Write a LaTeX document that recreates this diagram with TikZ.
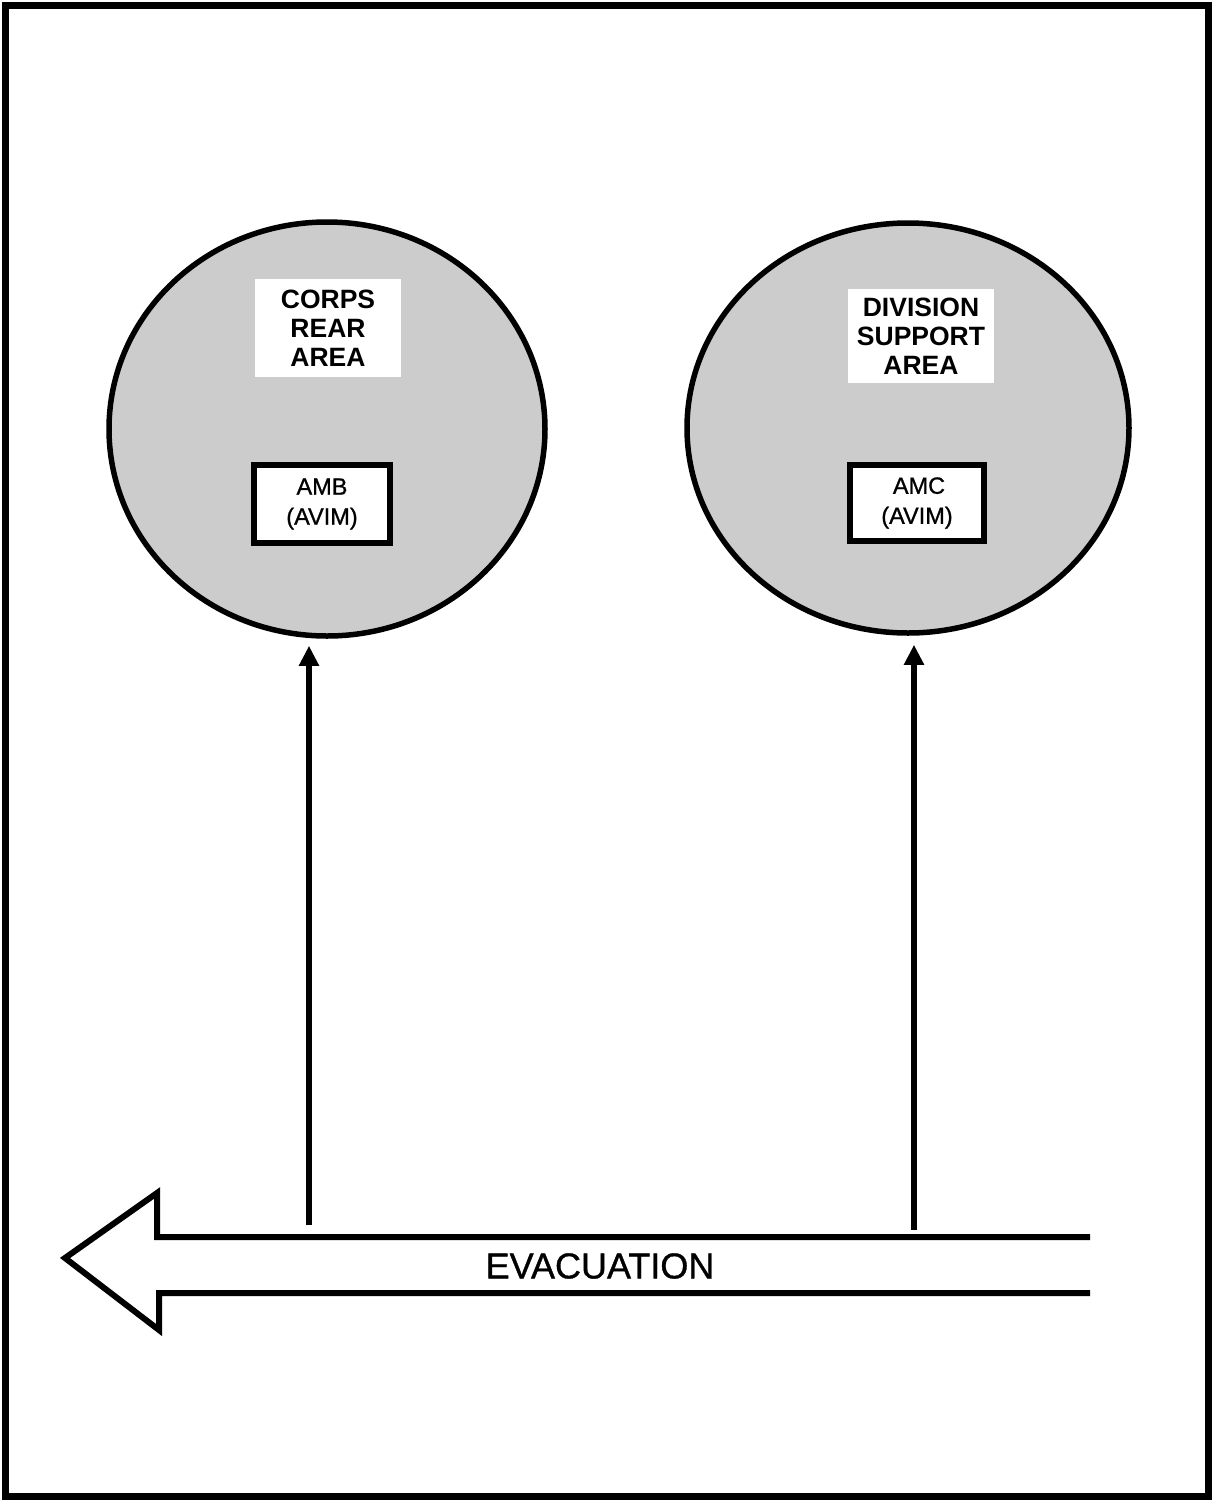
\documentclass[tikz,border=0pt]{standalone}
\usepackage{fontspec}
\setmainfont{Liberation Sans}
\newfontfamily\heavyreg[FakeBold=0.9]{Liberation Sans}
\usetikzlibrary{shapes.geometric,arrows.meta}
\definecolor{areagray}{gray}{0.80}
\begin{document}
\begin{tikzpicture}[x=1pt,y=-1pt,
  area/.style={ellipse,draw,line width=5.5pt,fill=areagray,inner sep=0pt},
  arealabel/.style={fill=white,font=\fontsize{26.5}{29}\selectfont\bfseries,align=center,inner xsep=6pt,inner ysep=5pt},
  unitbox/.style={draw,line width=5.5pt,fill=white,font=\heavyreg\fontsize{23.5}{30}\selectfont,align=center,inner sep=0pt},
  uparrow/.style={line width=6pt,-{Triangle[length=20pt,width=19pt]}},
  bigarrow/.style={line width=6pt,line join=miter}
]
\useasboundingbox (0,0) rectangle (1213,1500);
% outer frame
\draw[line width=7pt] (5.5,5.5) rectangle (1208,1496);

% the two areas
\node[area,minimum width=436pt,minimum height=414pt] (corps) at (327,429) {};
\node[area,minimum width=442pt,minimum height=410pt] (div) at (908,428) {};

\node[arealabel,minimum width=146pt,minimum height=98pt] (corpslbl) at (328,328) {CORPS\\REAR\\AREA};
\node[arealabel,minimum width=146pt,minimum height=94pt] (divlbl) at (921,336) {DIVISION\\SUPPORT\\AREA};

\node[unitbox,minimum width=136pt,minimum height=78pt] (amb) at (322,504) {AMB\\(AVIM)};
\node[unitbox,minimum width=134pt,minimum height=76pt] (amc) at (917,503) {\hspace*{4pt}AMC\\(AVIM)};

% evacuation arrow (outline, open at the right end)
\coordinate (tip) at (65,1258);
\coordinate (hu) at (157,1193);
\coordinate (su) at (157,1237);
\coordinate (eu) at (1090,1237);
\coordinate (hl) at (159,1330);
\coordinate (sl) at (159,1293);
\coordinate (el) at (1090,1293);
\draw[bigarrow] (eu) -- (su) -- (hu) -- (tip) -- (hl) -- (sl) -- (el);
\node[font=\heavyreg\fontsize{36}{40}\selectfont] (evac) at (600,1266) {EVACUATION};

% feeds from the evacuation route to each area
\coordinate (f1) at (309,1225);
\coordinate (f2) at (914,1230);
\draw[uparrow,shorten >=7pt] (f1) -- (f1 |- corps.south);
\draw[uparrow,shorten >=9pt] (f2) -- (f2 |- div.south);
\end{tikzpicture}
\end{document}
